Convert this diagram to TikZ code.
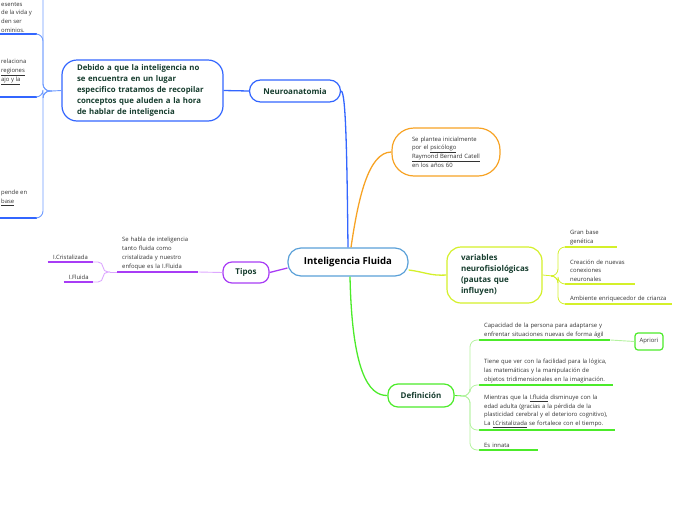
\documentclass[tikz,border=0pt]{standalone}
\usepackage{fontspec}
\setmainfont{Open Sans}
\usetikzlibrary{positioning}
\definecolor{titletext}{HTML}{163D2E}
\definecolor{leaftext}{HTML}{333333}
\definecolor{mapblue}{HTML}{3366FF}
\definecolor{lightblue}{HTML}{6E9BFF}
\definecolor{centreblue}{HTML}{5AA0D8}
\definecolor{maporange}{HTML}{F7A325}
\definecolor{maplime}{HTML}{D4F02A}
\definecolor{mappurple}{HTML}{A83CF5}
\definecolor{palepurple}{HTML}{DDA8FF}
\definecolor{mapgreen}{HTML}{4CEB2A}
\definecolor{palegreen}{HTML}{B4F2A0}
\tikzset{
	topic/.style={draw, fill=white, line width=1.2pt, rounded corners=10pt, inner sep=0pt,
		text=titletext, font=\bfseries\fontsize{8}{11}\selectfont}
}
\tikzset{
	leaf/.style={inner xsep=5pt, inner ysep=2pt, align=left, text=leaftext,
		font=\fontsize{5.9}{8.8}\selectfont}
}
\tikzset{
	branch/.style={line width=1.3pt},
	underl/.style={line width=1.6pt},
	twig/.style={line width=0.9pt, rounded corners=7pt}
}

\begin{document}
\begin{tikzpicture}[x=1pt, y=-1pt]
      \useasboundingbox (0,0) rectangle (697,520);

      % central topic
      \node[topic, draw=centreblue, minimum width=120pt, minimum height=28pt, rounded corners=13pt,
        text=black, font=\bfseries\fontsize{9.6}{10}\selectfont] (central) at (348,262) {Inteligencia Fluida};

      % ---- Neuroanatomia (blue)
      \node[topic, draw=mapblue, minimum width=91pt, minimum height=22pt, rounded corners=11pt] (neuro) at (295,91) {Neuroanatomia};
      \node[topic, draw=mapblue, text width=131pt, inner xsep=15pt, minimum height=61pt, rounded corners=15pt, align=left,
        font=\bfseries\fontsize{7.8}{11}\selectfont] (debido) at (142.5,90.5)
        {Debido a que la inteligencia no\\se encuentra en un lugar\\especifico tratamos de recopilar\\conceptos que aluden a la hora\\de hablar de inteligencia};
      \draw[branch, mapblue] (neuro.east) .. controls (346,91) and (347,160) .. (central.north);
      \draw[branch, mapblue] (debido.east) -- (neuro.west);

      % cut-off leaves on the left edge
      \node[leaf, anchor=north west, inner xsep=1pt] (cuta) at (0,0) {esentes\\de la vida y\\den ser\\ominios.};
      \node[leaf, anchor=north west, inner xsep=1pt] (cutb) at (0,57) {relaciona\\\underline{regiones}\\\underline{ajo y la}};
      \node[leaf, anchor=north west, inner xsep=1pt] (cutc) at (0,188) {pende en\\\underline{base}};
      \coordinate (bhub) at (52,91);
      \coordinate (ua) at (37,34);
      \coordinate (ub) at (37,97);
      \coordinate (uc) at (37,218);
      \coordinate (ud) at (43,-10);
      \draw[underl, mapblue] (-5,34) -- (ua);
      \draw[underl, mapblue] (-5,97) -- (ub);
      \draw[underl, mapblue] (-5,218) -- (uc);
      \draw[branch, lightblue, line width=0.9pt] (debido.west) -- (bhub);
      \foreach \u in {ua,ub,uc} {
        \draw[twig, lightblue] (bhub) -- (43,91) |- (\u);
      }
      \draw[twig, lightblue] (bhub) -- (43,91) -- (ud);

      % ---- origin (orange)
      \node[topic, draw=maporange, text width=68pt, inner xsep=20pt, minimum height=48pt, rounded corners=22pt, align=left,
        font=\fontsize{5.9}{8.8}\selectfont] (origen) at (446,152)
        {\mdseries\color{leaftext}Se plantea inicialmente\\por el \underline{psicólogo}\\\underline{Raymond Bernard Catell}\\en los años 60};
      \draw[branch, maporange] ([xshift=3pt]central.north) .. controls (358,200) and (368,152) .. (origen.west);

      % ---- variables (lime)
      \node[topic, draw=maplime, text width=67pt, inner xsep=14pt, minimum height=56pt, rounded corners=14pt, align=left] (vars) at (494.5,275)
        {variables\\neurofisiológicas\\(pautas que\\influyen)};
      \draw[branch, maplime] ([yshift=-8pt]central.east) .. controls (425,272) and (430,276) .. (vars.west);
      \node[leaf, text width=42pt, anchor=south west] (gen) at (565,247) {Gran base\\genética};
      \node[leaf, text width=60pt, anchor=south west] (cone) at (565,284) {Creación de nuevas\\conexiones\\neuronales};
      \node[leaf, text width=97pt, anchor=south west] (amb) at (565,304) {Ambiente enriquecedor de crianza};
      \coordinate (vhub) at (553,276);
      \draw[branch, maplime, line width=0.8pt] (vars.east) -- (vhub);
      \foreach \n in {gen,cone,amb} {
        \draw[underl, maplime] (\n.south west) -- (\n.south east);
        \draw[twig, maplime, line width=0.8pt] (vhub) -- (558,276) |- (\n.south west);
      }

      % ---- Tipos (purple)
      \node[topic, draw=mappurple, minimum width=46pt, minimum height=21pt, rounded corners=9pt] (tipos) at (246,272.5) {Tipos};
      \draw[branch, mappurple] ([yshift=-6pt]central.west) -- (tipos.east);
      \node[leaf, text width=71pt, anchor=south west] (habla) at (117,272)
        {Se habla de inteligencia\\tanto fluida como\\cristalizada y nuestro\\enfoque es la I.Fluida};
      \draw[underl, mappurple] (habla.south west) -- (habla.south east);
      \draw[branch, palepurple, line width=0.9pt] (tipos.west) -- (habla.south east);
      \node[leaf, text width=35pt, align=right, anchor=south east] (icris) at (93,262) {I.Cristalizada};
      \node[leaf, text width=19pt, align=right, anchor=south east] (iflu) at (93,282) {I.Fluida};
      \coordinate (phub) at (110,272);
      \draw[palepurple, line width=0.9pt] (habla.south west) -- (phub);
      \foreach \n in {icris,iflu} {
        \draw[underl, mappurple] (\n.south west) -- (\n.south east);
        \draw[twig, palepurple, rounded corners=5pt] (phub) -- (103,272) |- (\n.south east);
      }

      % ---- Definicion (green)
      \node[topic, draw=mapgreen, minimum width=66pt, minimum height=23pt, rounded corners=10pt] (defi) at (421,395.5) {Definición};
      \draw[branch, mapgreen] ([xshift=2pt]central.south) .. controls (352,370) and (368,396) .. (defi.west);
      \node[leaf, text width=121pt, anchor=south west] (capa) at (479,340)
        {Capacidad de la persona para adaptarse y\\enfrentar situaciones nuevas de forma ágil};
      \node[leaf, text width=124pt, anchor=south west] (logi) at (479,385)
        {Tiene que ver con la facilidad para la lógica,\\las matemáticas y la manipulación de\\objetos tridimensionales en la imaginación.};
      \node[leaf, text width=126pt, anchor=south west] (mien) at (479,430)
        {Mientras que la \underline{I.fluida} disminuye con la\\edad adulta (gracias a la pérdida de la\\plasticidad cerebral y el deterioro cognitivo),\\La \underline{I.Cristalizada} se fortalece con el tiempo.};
      \node[leaf, text width=49pt, anchor=south west] (inna) at (479,450) {Es innata};
      \coordinate (ghub) at (463,396);
      \draw[branch, mapgreen, line width=0.8pt] (defi.east) -- (ghub);
      \foreach \n in {capa,logi,mien,inna} {
        \draw[underl, mapgreen] (\n.south west) -- (\n.south east);
        \draw[twig, palegreen, line width=0.8pt] (ghub) -- (470,396) |- (\n.south west);
      }
      \node[draw=mapgreen, line width=1.2pt, rounded corners=3pt, minimum width=28pt, minimum height=17pt, inner sep=0pt,
        fill=white, text=leaftext, font=\fontsize{5.9}{7}\selectfont] (apri) at (649,341.5) {Apriori};
      \draw[palegreen, line width=0.9pt] (capa.south east) -- (apri.west);
    \end{tikzpicture}
\end{document}
